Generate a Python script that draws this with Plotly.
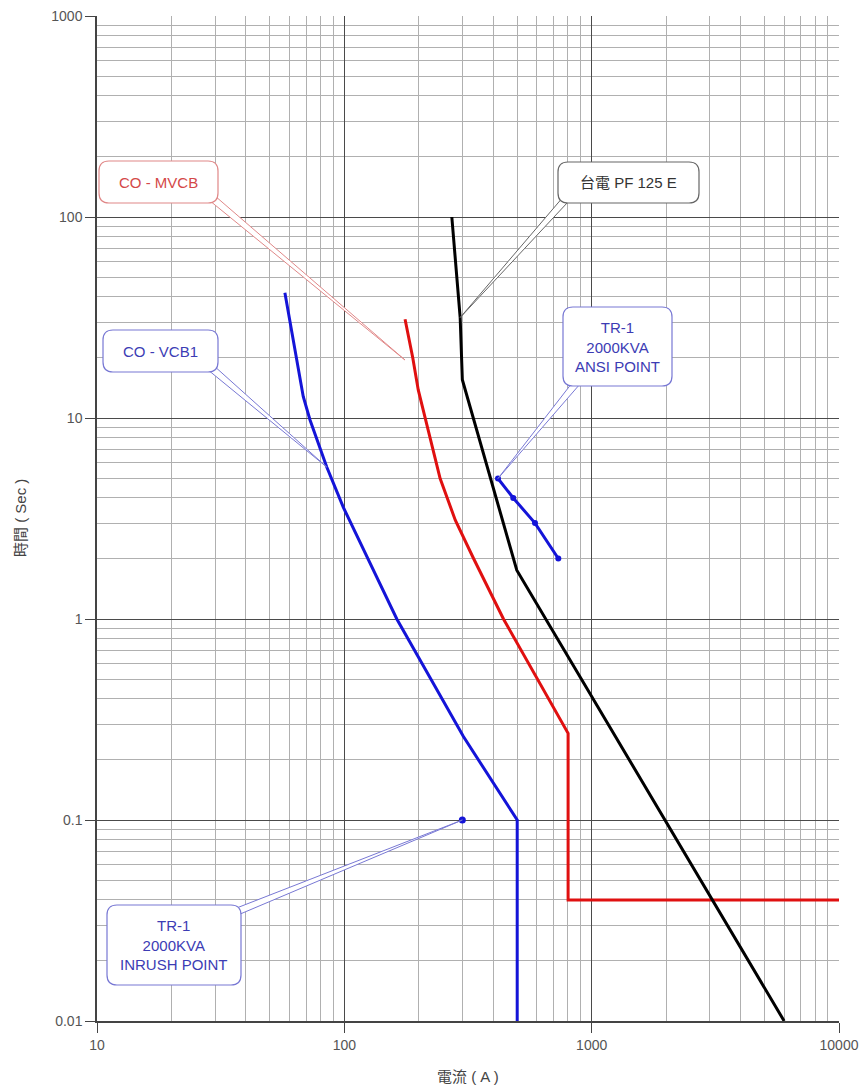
import math
import plotly.graph_objects as go

# ---- curve data: current (A) vs. time (sec) ----
pf125e_current = [272, 294, 300, 498, 6000]
pf125e_time = [100, 31.6, 15.5, 1.75, 0.01]

mvcb_current = [176, 189, 199, 212, 244, 281, 333, 440, 564, 803, 803, 10000]
mvcb_time = [31, 20, 13.8, 10, 5, 3.1, 2, 1, 0.58, 0.27, 0.04, 0.04]

vcb1_current = [57.5, 68.2, 72.6, 84.9, 99, 163, 303, 500, 500]
vcb1_time = [42, 12.8, 9.8, 5.7, 3.6, 1, 0.26, 0.1, 0.01]

ansi_current = [418, 482, 590, 733]
ansi_time = [5, 4, 3, 2]

inrush_current = [300]
inrush_time = [0.1]

x_tick_vals = [10, 100, 1000, 10000]
x_tick_text = ["10", "100", "1000", "10000"]
y_tick_vals = [0.01, 0.1, 1, 10, 100, 1000]
y_tick_text = ["0.01", "0.1", "1", "10", "100", "1000"]

# ---- page geometry ----
W, H = 864, 1087
ML, MR, MT, MB = 97, 25, 16, 66
PW, PH = W - ML - MR, H - MT - MB

FONT = "Liberation Sans, Arial, Noto Sans CJK TC, sans-serif"


def px_x(px):
    return (px - ML) / PW


def px_y(py):
    return (MT + PH - py) / PH


def pix_of_data(x, y):
    lx = (math.log10(x) - 1) / 3
    ly = (math.log10(y) + 2) / 5
    return ML + lx * PW, MT + PH - ly * PH


def rounded_box(x0, y0, x1, y1, r=10):
    # rounded rectangle given in pixel coords, returned as paper-space path
    def P(x, y):
        return f"{px_x(x):.5f},{px_y(y):.5f}"
    return " ".join([
        f"M{P(x0 + r, y0)}",
        f"L{P(x1 - r, y0)}",
        f"Q{P(x1, y0)} {P(x1, y0 + r)}",
        f"L{P(x1, y1 - r)}",
        f"Q{P(x1, y1)} {P(x1 - r, y1)}",
        f"L{P(x0 + r, y1)}",
        f"Q{P(x0, y1)} {P(x0, y1 - r)}",
        f"L{P(x0, y0 + r)}",
        f"Q{P(x0, y0)} {P(x0 + r, y0)}",
        "Z",
    ])


def tail(base, tip, width=7):
    bx, by = base
    tx, ty = tip
    dx, dy = tx - bx, ty - by
    n = math.hypot(dx, dy)
    ux, uy = -dy / n, dx / n
    h = width / 2
    a = (bx + ux * h, by + uy * h)
    b = (bx - ux * h, by - uy * h)
    return (f"M{px_x(a[0]):.5f},{px_y(a[1]):.5f} L{px_x(tx):.5f},{px_y(ty):.5f} "
            f"L{px_x(b[0]):.5f},{px_y(b[1]):.5f} Z")


fig = go.Figure()

fig.add_trace(go.Scatter(x=vcb1_current, y=vcb1_time, mode="lines",
                         line=dict(color="#1414d8", width=3), name="CO - VCB1"))
fig.add_trace(go.Scatter(x=mvcb_current, y=mvcb_time, mode="lines",
                         line=dict(color="#e01010", width=3), name="CO - MVCB"))
fig.add_trace(go.Scatter(x=pf125e_current, y=pf125e_time, mode="lines",
                         line=dict(color="#000000", width=3), name="台電 PF 125 E"))
fig.add_trace(go.Scatter(x=ansi_current, y=ansi_time, mode="lines+markers",
                         line=dict(color="#1414d8", width=3),
                         marker=dict(color="#1414d8", size=6), name="ANSI POINT"))
fig.add_trace(go.Scatter(x=inrush_current, y=inrush_time, mode="markers",
                         marker=dict(color="#1414d8", size=7), name="INRUSH POINT"))

# ---- callouts: box (pixel rect), tail base, tail tip, text, colours ----
callouts = [
    dict(box=(99, 161, 218, 203), base=(212, 198), tip_px=(405, 360),
         text="CO - MVCB", text_color="#d44848", line="#e08888"),
    dict(box=(103, 330, 218, 372), base=(210, 367), tip_data=(84.9, 5.7),
         text="CO - VCB1", text_color="#3c3cb4", line="#7878d4"),
    dict(box=(558, 162, 699, 203), base=(566, 199), tip_data=(294, 31.6),
         text="台電 PF 125 E", text_color="#333333", line="#666666"),
    dict(box=(563, 307, 672, 386), base=(578, 381), tip_data=(418, 5),
         text="TR-1<br>2000KVA<br>ANSI POINT", text_color="#3c3cb4", line="#7878d4"),
    dict(box=(107, 905, 241, 985), base=(236, 912), tip_data=(300, 0.1),
         text="TR-1<br>2000KVA<br>INRUSH POINT", text_color="#3c3cb4", line="#7878d4"),
]

shapes = []
annotations = []
for c in callouts:
    tip = c["tip_px"] if "tip_px" in c else pix_of_data(*c["tip_data"])
    shapes.append(dict(type="path", xref="paper", yref="paper",
                       path=tail(c["base"], tip), fillcolor="white",
                       line=dict(color=c["line"], width=1)))
for c in callouts:
    x0, y0, x1, y1 = c["box"]
    shapes.append(dict(type="path", xref="paper", yref="paper",
                       path=rounded_box(x0, y0, x1, y1), fillcolor="white",
                       line=dict(color=c["line"], width=1.2)))
    annotations.append(dict(xref="paper", yref="paper",
                            x=px_x((x0 + x1) / 2), y=px_y((y0 + y1) / 2),
                            text=c["text"], showarrow=False,
                            xanchor="center", yanchor="middle",
                            font=dict(family=FONT, size=15, color=c["text_color"])))

# axis titles
annotations.append(dict(xref="paper", yref="paper", x=px_x(20), y=px_y(518),
                        xanchor="center", yanchor="middle",
                        text="時間 ( Sec )", textangle=-90, showarrow=False,
                        font=dict(family=FONT, size=15, color="#444444")))
annotations.append(dict(xref="paper", yref="paper", x=px_x(468), y=px_y(1076),
                        xanchor="center", yanchor="middle",
                        text="電流 ( A )", showarrow=False,
                        font=dict(family=FONT, size=15, color="#444444")))

minor_x = [d * 10 ** k for k in range(1, 4) for d in range(2, 10)]
minor_y = [d * 10 ** k for k in range(-2, 3) for d in range(2, 10)]

fig.update_layout(
    width=W, height=H,
    margin=dict(l=ML, r=MR, t=MT, b=MB, autoexpand=False),
    paper_bgcolor="white", plot_bgcolor="white",
    showlegend=False,
    shapes=shapes,
    annotations=annotations,
    font=dict(family=FONT, size=14, color="#555555"),
    xaxis=dict(type="log", range=[1, 4], tickvals=x_tick_vals, ticktext=x_tick_text,
               ticks="outside", ticklen=10, tickcolor="#444444",
               showline=True, linecolor="#444444", linewidth=1.5, mirror=False,
               showgrid=True, gridcolor="#4a4a4a", gridwidth=1, zeroline=False,
               minor=dict(tickvals=minor_x, showgrid=True, gridcolor="#b0b0b0",
                          gridwidth=1, ticks=""),
               tickfont=dict(size=14, color="#555555")),
    yaxis=dict(type="log", range=[-2, 3], tickvals=y_tick_vals, ticktext=y_tick_text,
               ticks="outside", ticklen=10, tickcolor="#444444",
               showline=True, linecolor="#444444", linewidth=1.5, mirror=False,
               showgrid=True, gridcolor="#4a4a4a", gridwidth=1, zeroline=False,
               minor=dict(tickvals=minor_y, showgrid=True, gridcolor="#b0b0b0",
                          gridwidth=1, ticks=""),
               tickfont=dict(size=14, color="#555555")),
)

fig.write_html("out.html")
